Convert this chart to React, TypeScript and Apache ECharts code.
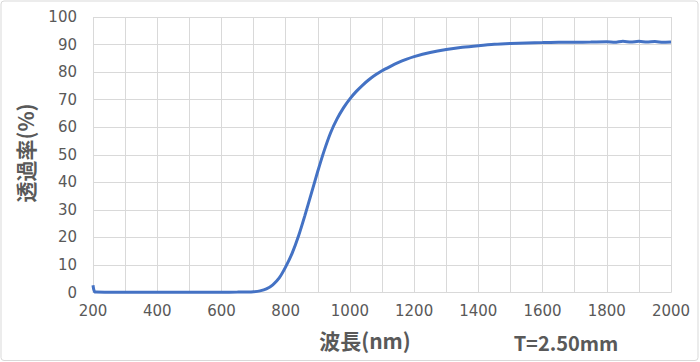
import React, { useEffect, useRef } from "react";
import * as echarts from "echarts";

const wavelengths = [
  200, 202, 205, 210, 250, 300, 400, 500, 600, 650, 680, 700, 720, 740, 760, 780,
  800, 820, 840, 860, 880, 900, 920, 940, 960, 980, 1000, 1020, 1040, 1060, 1080,
  1100, 1125, 1150, 1175, 1200, 1250, 1300, 1350, 1400, 1450, 1500, 1550, 1600,
  1650, 1700, 1750, 1800, 1825, 1850, 1875, 1900, 1925, 1950, 1975, 2000,
];
const transmittance = [
  2.6, 1.2, 0.3, 0.15, 0.1, 0.1, 0.1, 0.1, 0.12, 0.15, 0.2, 0.3, 0.6, 1.3, 2.8, 5.3,
  9.3, 14.2, 20.5, 28, 36, 44, 51.5, 58, 63, 67, 70.3, 73, 75.3, 77.3, 79,
  80.5, 82, 83.4, 84.6, 85.6, 87.1, 88.2, 89, 89.6, 90.1, 90.4, 90.6, 90.7,
  90.8, 90.85, 90.9, 91.0, 90.8, 91.2, 90.9, 91.2, 90.9, 91.1, 90.8, 90.9,
];
const xLabel = "波長(nm)";
const yLabel = "透過率(%)";
const thicknessNote = "T=2.50mm";

export default function App() {
  const ref = useRef<HTMLDivElement>(null);
  useEffect(() => {
    if (!ref.current) return;
    const chart = echarts.init(ref.current, null, { renderer: "svg" });
    const tickFont = {
      color: "#595959",
      fontSize: 15,
      fontFamily: "'DejaVu Sans', sans-serif",
    };
    chart.setOption({
      animation: false,
      backgroundColor: "#ffffff",
      grid: { left: 93, right: 29, top: 17, bottom: 69.5 },
      xAxis: {
        type: "value",
        min: 200,
        max: 2000,
        interval: 100,
        axisLine: { show: true, lineStyle: { color: "#d9d9d9", width: 1 } },
        axisTick: { show: false },
        splitLine: { show: true, lineStyle: { color: "#d9d9d9", width: 1 } },
        axisLabel: {
          ...tickFont,
          margin: 11,
          formatter: (v: number) => (v % 200 === 0 ? String(v) : ""),
        },
      },
      yAxis: {
        type: "value",
        min: 0,
        max: 100,
        interval: 10,
        axisLine: { show: false },
        axisTick: { show: false },
        splitLine: { show: true, lineStyle: { color: "#d9d9d9", width: 1 } },
        axisLabel: { ...tickFont, margin: 16 },
      },
      series: [
        {
          type: "line",
          data: wavelengths.map((w, i) => [w, transmittance[i]]),
          showSymbol: false,
          smooth: 0.2,
          lineStyle: { color: "#4472C4", width: 3 },
          itemStyle: { color: "#4472C4" },
        },
      ],
      graphic: [
        {
          type: "rect",
          shape: { x: 1, y: 1, width: 697, height: 359.5, r: 3 },
          style: { fill: "none", stroke: "#d9d9d9", lineWidth: 1 },
          silent: true,
        },
        {
          type: "text",
          x: 25,
          y: 153,
          rotation: Math.PI / 2,
          style: {
            text: yLabel,
            fill: "#595959",
            fontSize: 21,
            fontWeight: "bold",
            fontFamily: "'Noto Sans CJK JP', sans-serif",
            align: "center",
            verticalAlign: "middle",
          },
        },
        {
          type: "text",
          x: 365,
          y: 340,
          style: {
            text: xLabel,
            fill: "#595959",
            fontSize: 21,
            fontWeight: "bold",
            fontFamily: "'Noto Sans CJK JP', sans-serif",
            align: "center",
            verticalAlign: "middle",
          },
        },
        {
          type: "text",
          x: 566,
          y: 342,
          style: {
            text: thicknessNote,
            fill: "#595959",
            fontSize: 20,
            fontWeight: "bold",
            fontFamily: "'Noto Sans CJK JP', sans-serif",
            align: "center",
            verticalAlign: "middle",
          },
        },
      ],
    });
    return () => chart.dispose();
  }, []);
  return (
    <div
      ref={ref}
      style={{ position: "fixed", left: 0, top: 0, width: 700, height: 362 }}
    />
  );
}
